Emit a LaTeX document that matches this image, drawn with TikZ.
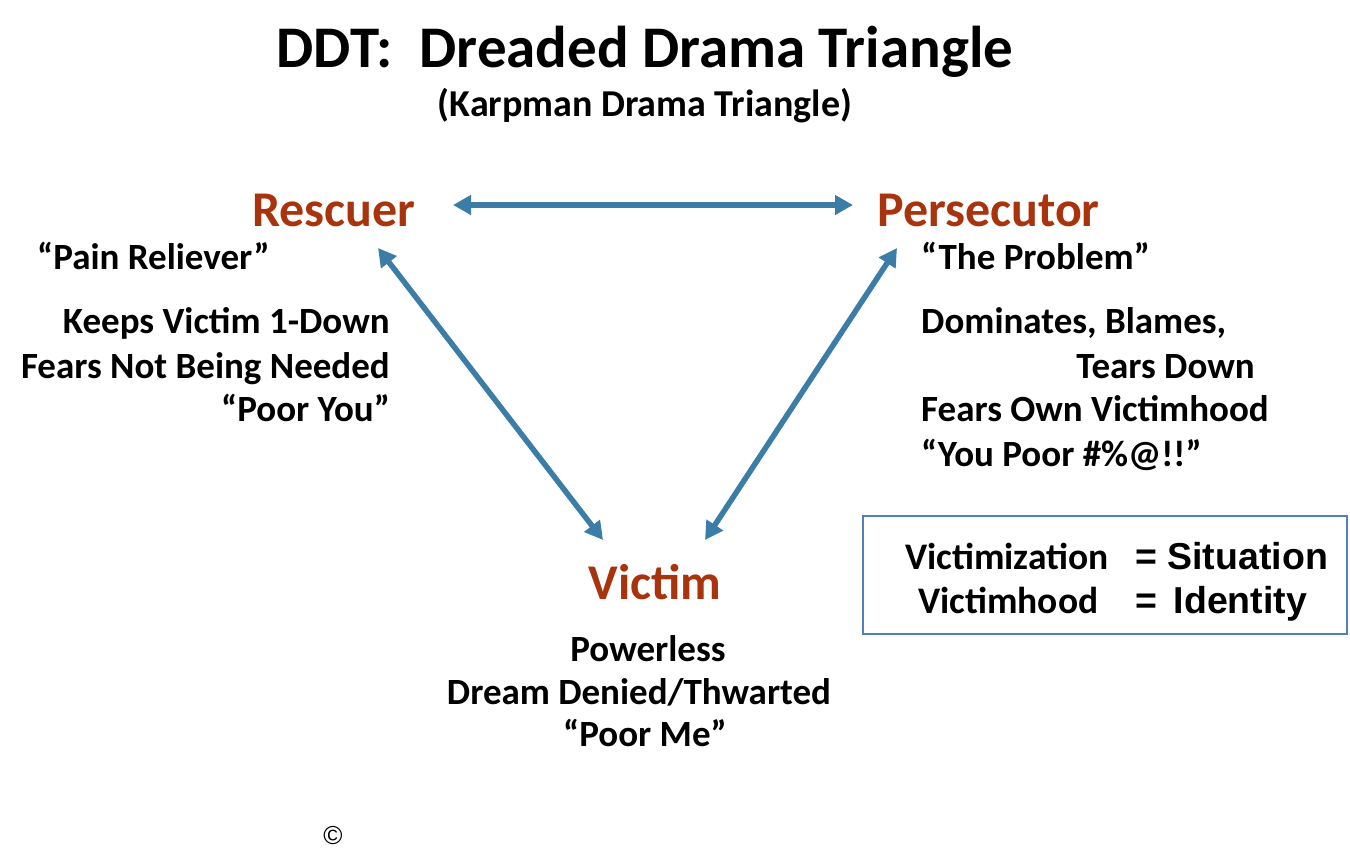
\documentclass[tikz,border=0pt]{standalone}
\usepackage{fontspec}
\setmainfont{Carlito}
\newfontfamily\arialf{Liberation Sans}
\usetikzlibrary{arrows.meta}
\definecolor{rust}{RGB}{168,52,14}
\definecolor{arrowblue}{RGB}{60,125,168}
\definecolor{boxblue}{RGB}{80,130,185}
\tikzset{
  role/.style={font=\fontsize{50}{54}\selectfont\bfseries, text=rust, inner sep=0pt},
  body/.style={font=\fontsize{37}{40}\selectfont\bfseries, inner sep=0pt},
  boxtxt/.style={font=\fontsize{37.5}{40}\selectfont\bfseries, inner sep=0pt},
  arialtxt/.style={font=\fontsize{37.5}{40}\selectfont\arialf\bfseries, inner sep=0pt},
  link/.style={draw=arrowblue, line width=5.5pt, {Triangle[length=18pt,width=19pt]}-{Triangle[length=18pt,width=19pt]}},
}
\begin{document}
\begin{tikzpicture}[x=1pt,y=-1pt]
\useasboundingbox (0,0) rectangle (1350,859);
\node[font=\fontsize{59}{62}\selectfont\bfseries, inner sep=0pt, anchor=base] (title) at (645,68) {DDT:\ \ Dreaded Drama Triangle};
\node[font=\fontsize{38}{40}\selectfont\bfseries, inner sep=0pt, anchor=base] (sub) at (645,117) {(Karpman Drama Triangle)};

\node[role, anchor=base west] (resc) at (252,226) {Rescuer};
\node[body, anchor=base west] (r1) at (37,269) {“Pain Reliever”};
\node[body, anchor=base east] (r2) at (390,333) {Keeps Victim 1-Down};
\node[body, anchor=base east] (r3) at (390,378) {Fears Not Being Needed};
\node[body, anchor=base east] (r4) at (390,421) {“Poor You”};

\node[role, anchor=base west] (pers) at (877,226) {Persecutor};
\node[body, anchor=base west] (p1) at (921,269) {“The Problem”};
\node[body, anchor=base west] (p2) at (921,333) {Dominates, Blames,};
\node[body, anchor=base east] (p3) at (1255,378) {Tears Down};
\node[body, anchor=base west] (p4) at (921,421) {Fears Own Victimhood};
\node[body, anchor=base west] (p5) at (921,466) {“You Poor \#\%@!!”};

\node[role, anchor=base] (vict) at (655,599) {Victim};
\node[body, anchor=base] (v1) at (648,661) {Powerless};
\node[body, anchor=base] (v2) at (639,704) {Dream Denied/Thwarted};
\node[body, anchor=base] (v3) at (645,746) {“Poor Me”};

\node[draw=boxblue, line width=1.5pt, minimum width=484pt, minimum height=118pt, anchor=north west, inner sep=0pt] (box) at (862,515) {};
\node[boxtxt, anchor=base west] (b1) at (905,569) {Victimization};
\node[boxtxt, anchor=base west] (b2) at (918,613) {Victimhood};
\node[arialtxt, anchor=base west] (b3) at (1135,569) {= Situation};
\node[arialtxt, anchor=base west] (b4) at (1135,613) {=\ \,Identity};

\node[font=\fontsize{26}{28}\selectfont\arialf, inner sep=0pt] (copy) at (333,836) {©};

\coordinate (rr) at (453,205);
\coordinate (pl) at (853,205);
\coordinate (rd) at (378,248);
\coordinate (vl) at (603,540);
\coordinate (pd) at (897,248);
\coordinate (vr) at (705,540);
\draw[link] (rr) -- (pl);
\draw[link] (rd) -- (vl);
\draw[link] (pd) -- (vr);
\end{tikzpicture}
\end{document}
